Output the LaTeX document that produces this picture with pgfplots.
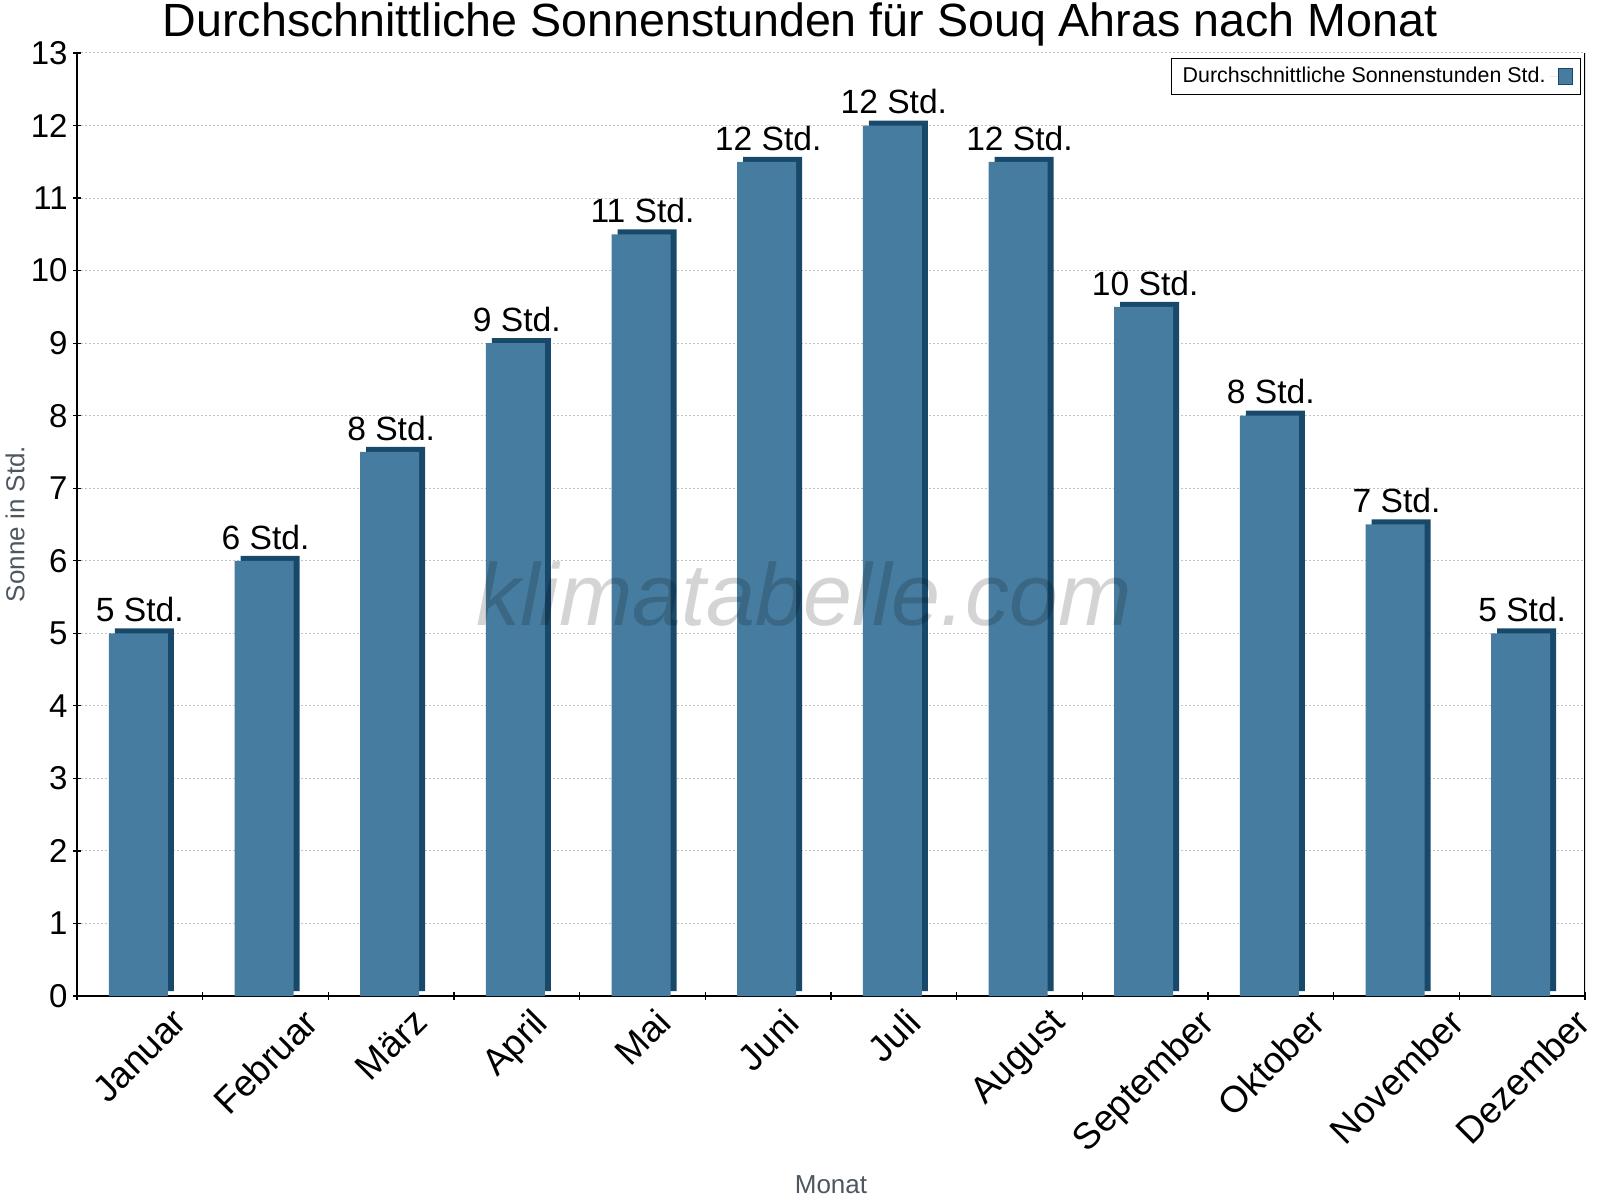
\documentclass[border=0pt]{standalone}
\usepackage{pgfplots}
\pgfplotsset{compat=1.18}
\usepackage{pgfplotstable}
\usepackage{fontspec}
\setmainfont{Liberation Sans}

\definecolor{barfront}{RGB}{70,124,159}
\definecolor{barside}{RGB}{24,73,107}
\definecolor{labgray}{RGB}{78,86,96}
\definecolor{gridgray}{RGB}{195,195,195}

% x: Monat (0 = Januar), y: Sonnenstunden, lab: gerundeter Wert
\pgfplotstableread{
x y lab
0 5 5
1 6 6
2 7.5 8
3 9 9
4 10.5 11
5 11.5 12
6 12 12
7 11.5 12
8 9.5 10
9 8 8
10 6.5 7
11 5 5
}\sonne

\begin{document}
\begin{tikzpicture}
\useasboundingbox (0,0) rectangle (800pt,600pt);
\begin{axis}[
  at={(38.5pt,102pt)}, anchor=south west,
  scale only axis, width=754pt, height=471.5pt,
  xmin=-0.5, xmax=11.5, ymin=0, ymax=13,
  axis lines*=left,
  axis line style={-, line width=0.6pt},
  ytick={0,...,13},
  xtick={0,...,11},
  xticklabels={\rotatebox{45}{Januar},\rotatebox{45}{Februar},\rotatebox{45}{März},
    \rotatebox{45}{April},\rotatebox{45}{Mai},\rotatebox{45}{Juni},\rotatebox{45}{Juli},
    \rotatebox{45}{August},\rotatebox{45}{September},\rotatebox{45}{Oktober},
    \rotatebox{45}{November},\rotatebox{45}{Dezember}},
  minor xtick={-0.5,0.5,...,11.5},
  major x tick style={draw=none},
  tick align=center, major tick length=4pt, minor tick length=4pt,
  tick style={black, line width=0.6pt},
  ymajorgrids,
  grid style={gridgray, dash pattern=on 1pt off 1pt, line width=0.5pt},
  /pgf/number format/assume math mode=true,
  yticklabel style={font=\fontsize{16.5}{16.5}\selectfont, anchor=east, inner sep=0pt, xshift=-2.5pt},
  xticklabel style={font=\fontsize{18.5}{18.5}\selectfont, anchor=north, inner sep=0pt, yshift=-3pt},
  legend style={at={(1,1)}, anchor=north east, xshift=-2pt, yshift=-2.5pt,
    draw=black, line width=0.5pt, font=\fontsize{10.7}{12}\selectfont,
    inner xsep=3.5pt, inner ysep=2.5pt},
  legend plot pos=right,
  legend cell align=left,
]
\addplot[ybar, bar width=29.5pt, bar shift=2.25pt, yshift=2.5pt,
  fill=barside, draw=none, forget plot] table[x=x, y=y] {\sonne};
\addplot[ybar, bar width=29.5pt, bar shift=-0.75pt, fill=barfront, draw=none,
  point meta=explicit symbolic,
  nodes near coords={\pgfplotspointmeta~Std.},
  every node near coord/.append style={font=\fontsize{16.8}{16.8}\selectfont,
    text=black, anchor=south, inner sep=0pt, yshift=5.5pt},
  legend image code/.code={\path (0pt,0pt) -- (12pt,0pt);
    \draw[fill=barfront, draw=barside, line width=0.5pt]
    (4.5pt,-4pt) rectangle (11.5pt,4pt);}]
  table[x=x, y=y, meta=lab] {\sonne};
\addlegendentry{Durchschnittliche Sonnenstunden Std.}
\draw[line width=0.6pt] (rel axis cs:1,0) -- (rel axis cs:1,1);
\end{axis}
\node[font=\fontsize{44}{44}\selectfont\itshape, text=black, text opacity=0.17, anchor=base]
  at (402pt,287pt) {klimatabelle.com};
\node[font=\fontsize{23.3}{23.3}\selectfont, anchor=base] at (400pt,581.5pt)
  {Durchschnittliche Sonnenstunden für Souq Ahras nach Monat};
\node[font=\fontsize{13}{13}\selectfont, text=labgray, anchor=base] at (415.5pt,3.5pt) {Monat};
\node[font=\fontsize{13}{13}\selectfont, text=labgray, rotate=90, anchor=center]
  at (7.5pt,338pt) {Sonne in Std.};
\end{tikzpicture}
\end{document}
